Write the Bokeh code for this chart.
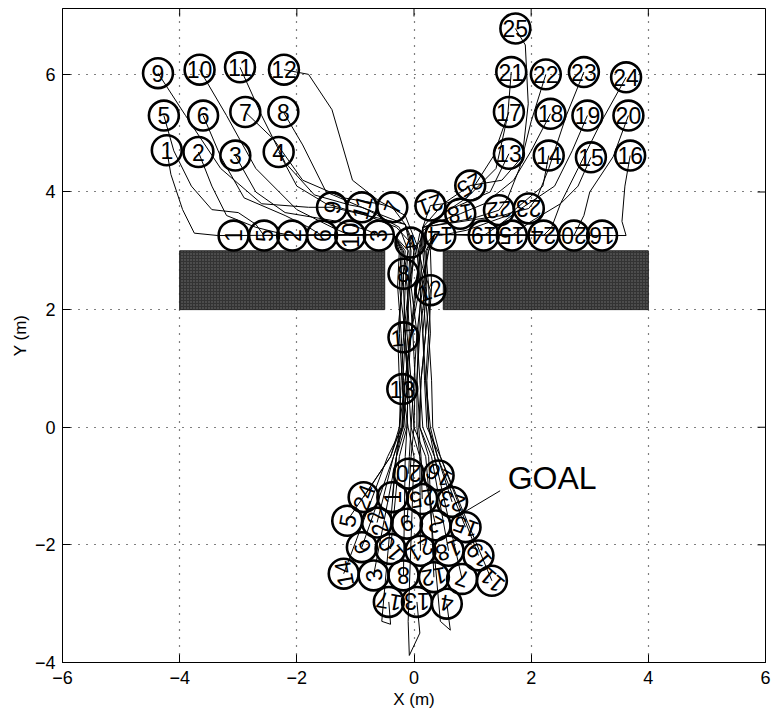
from bokeh.plotting import figure
from bokeh.models import Range1d, FixedTicker
from bokeh.core.properties import value
from bokeh.embed import file_html
from bokeh.resources import INLINE

FONT = "Liberation Sans"

# ---------------- data ----------------
robot_ids = list(range(1, 26))

start_x = [-4.22, -3.68, -3.05, -2.31, -4.27, -3.60, -2.88, -2.23, -4.37, -3.66, -2.97, -2.22,
           1.62, 2.30, 3.02, 3.69, 1.62, 2.33, 2.96, 3.66, 1.66, 2.25, 2.90, 3.62, 1.73]
start_y = [4.71, 4.68, 4.62, 4.68, 5.30, 5.30, 5.36, 5.36, 6.02, 6.08, 6.12, 6.08,
           4.65, 4.62, 4.59, 4.62, 5.36, 5.33, 5.30, 5.30, 6.04, 6.00, 6.04, 5.95, 6.78]

# snapshot positions (queue in front of the doorway)
snap_x = [-3.08, -2.08, -0.60, -0.06, -2.56, -1.57, -0.37, -0.18, -1.40, -1.09, -0.89, 0.28,
          -0.20, 0.45, 1.67, 3.21, -0.18, 0.79, 1.19, 2.73, 0.28, 1.45, 1.96, 2.21, 0.96]
snap_y = [3.26, 3.26, 3.26, 3.14, 3.26, 3.26, 3.74, 2.61, 3.74, 3.26, 3.74, 2.33,
          0.65, 3.26, 3.26, 3.26, 1.53, 3.63, 3.26, 3.26, 3.77, 3.69, 3.72, 3.26, 4.11]
snap_angle = [90, 90, 90, 10, 90, 90, 70, 0, 80, 90, 75, 20,
              0, 180, 180, 180, 5, 190, 180, 180, 200, 185, 180, 180, 210]

# final positions at the goal
goal_x = [-0.37, 0.37, -0.69, 0.56, -1.14, -0.89, 0.82, -0.18, -0.12, -0.40, 1.33, 0.34,
          0.05, -1.20, 0.88, 0.42, -0.43, 0.59, 1.10, -0.09, 0.11, -0.63, 0.65, -0.86, 0.14]
goal_y = [-1.19, -1.67, -2.52, -3.00, -1.59, -2.04, -2.58, -2.52, -1.64, -2.07, -2.61, -2.55,
          -2.97, -2.49, -1.70, -0.82, -2.97, -2.10, -2.18, -0.79, -2.10, -1.62, -1.27, -1.19, -1.22]
goal_angle = [90, 150, 100, 170, 80, 120, 160, 180, 200, 130, 140, 190,
              180, 100, 160, 150, 170, 200, 130, 180, 210, 110, 160, 70, 190]

# waypoints from start to snapshot (last point = snapshot position)
approach_x = [
    [-4.15, -3.95, -3.75, -3.35, -3.08],
    [-3.45, -3.2, -2.7, -2.3, -2.08],
    [-2.7, -2.2, -1.3, -0.8, -0.60],
    [-2.0, -1.5, -0.8, -0.3, -0.06],
    [-4.1, -3.8, -3.45, -3.0, -2.7, -2.56],
    [-3.3, -2.9, -2.2, -1.8, -1.57],
    [-2.4, -1.9, -1.2, -0.6, -0.37],
    [-1.9, -1.5, -0.8, -0.25, -0.1, -0.18],
    [-3.9, -3.3, -2.6, -1.8, -1.40],
    [-3.2, -2.7, -2.0, -1.4, -1.09],
    [-2.6, -2.2, -1.7, -1.1, -0.89],
    [-1.8, -1.4, -1.05, -0.6, -0.15, 0.05, 0.15, 0.28],
    [1.3, 0.6, 0.1, -0.05, -0.15, -0.20],
    [2.2, 1.6, 0.9, 0.45],
    [2.8, 2.5, 2.0, 1.67],
    [3.6, 3.55, 3.62, 3.4, 3.21],
    [1.35, 0.9, 0.3, 0.0, -0.1, -0.18],
    [2.0, 1.7, 1.2, 0.79],
    [2.7, 2.4, 1.8, 1.4, 1.19],
    [3.4, 3.0, 2.9, 2.73],
    [1.6, 1.4, 0.9, 0.5, 0.28],
    [2.0, 1.8, 1.6, 1.45],
    [2.6, 2.3, 2.1, 1.96],
    [3.2, 2.8, 2.5, 2.35, 2.21],
    [1.9, 1.95, 1.85, 1.5, 0.96],
]
approach_y = [
    [4.3, 3.7, 3.3, 3.26, 3.26],
    [4.1, 3.6, 3.4, 3.3, 3.26],
    [4.0, 3.65, 3.5, 3.35, 3.26],
    [4.1, 3.8, 3.6, 3.4, 3.14],
    [4.7, 4.1, 3.7, 3.65, 3.45, 3.26],
    [4.6, 3.9, 3.6, 3.4, 3.26],
    [4.9, 4.2, 3.9, 3.8, 3.74],
    [4.8, 4.0, 3.7, 3.4, 3.0, 2.61],
    [5.3, 4.4, 3.8, 3.74, 3.74],
    [5.3, 4.4, 3.7, 3.4, 3.26],
    [5.3, 4.5, 3.95, 3.78, 3.74],
    [6.0, 5.4, 4.2, 3.85, 3.6, 3.1, 2.7, 2.33],
    [4.0, 3.7, 3.3, 2.6, 1.5, 0.65],
    [4.1, 3.6, 3.35, 3.26],
    [4.1, 3.8, 3.5, 3.26],
    [4.1, 3.5, 3.26, 3.26, 3.26],
    [4.6, 3.9, 3.5, 3.0, 2.3, 1.53],
    [4.7, 4.2, 3.8, 3.63],
    [4.7, 4.1, 3.7, 3.4, 3.26],
    [4.6, 4.0, 3.6, 3.26],
    [5.3, 4.4, 3.9, 3.8, 3.77],
    [5.2, 4.4, 3.9, 3.69],
    [5.3, 4.4, 3.9, 3.72],
    [5.2, 4.4, 3.8, 3.4, 3.26],
    [6.5, 5.5, 4.6, 4.2, 4.11],
]

# waypoints after the snapshot, towards the doorway
post_x = [[-0.35], [-0.35], [-0.35], [], [-0.35], [-0.35], [-0.15], [], [-0.15], [-0.35], [-0.15], [],
          [], [0.35], [0.35], [0.35], [], [0.15], [0.35], [0.35], [0.15], [1.0, 0.15], [1.5, 0.15], [0.35], [0.5, 0.15]]
post_y = [[3.28], [3.28], [3.28], [], [3.28], [3.28], [3.45], [], [3.45], [3.28], [3.45], [],
          [], [3.28], [3.28], [3.28], [], [3.4], [3.28], [3.28], [3.4], [3.55, 3.4], [3.6, 3.4], [3.28], [3.8, 3.4]]

# passage through the doorway and down to the goal
corridor_y = [3.0, 2.4, 1.6, 0.8, 0.0, -0.5]
corridor_x = [
    [-0.20, -0.22, -0.25, -0.20, -0.15, -0.30],
    [-0.10, -0.15, -0.18, -0.10, -0.05, 0.10],
    [-0.25, -0.28, -0.22, -0.18, -0.20, -0.30],
    [-0.06, -0.10, -0.12, -0.05, 0.00, 0.20],
    [-0.15, -0.20, -0.28, -0.25, -0.22, -0.40],
    [-0.18, -0.12, -0.08, -0.12, -0.18, -0.35],
    [0.00, -0.05, 0.05, 0.10, 0.15, 0.35],
    [-0.10, -0.18, -0.15, -0.10, -0.12, -0.15],
    [-0.05, -0.08, -0.02, 0.02, 0.00, -0.05],
    [-0.22, -0.25, -0.15, -0.10, -0.12, -0.25],
    [0.05, 0.10, 0.15, 0.18, 0.22, 0.45],
    [0.15, 0.28, 0.20, 0.12, 0.10, 0.25],
    [0.00, -0.05, -0.15, -0.20, -0.10, 0.00],
    [0.10, 0.05, -0.05, -0.10, -0.20, -0.45],
    [0.20, 0.25, 0.28, 0.22, 0.25, 0.40],
    [0.28, 0.30, 0.25, 0.20, 0.25, 0.35],
    [0.00, -0.10, -0.18, -0.22, -0.25, -0.30],
    [0.15, 0.20, 0.10, 0.05, 0.10, 0.30],
    [0.22, 0.18, 0.25, 0.30, 0.32, 0.45],
    [0.25, 0.15, 0.05, 0.00, -0.05, -0.08],
    [0.08, 0.12, 0.08, 0.05, 0.05, 0.10],
    [0.12, 0.02, -0.05, -0.15, -0.20, -0.35],
    [0.18, 0.22, 0.15, 0.20, 0.28, 0.40],
    [0.25, 0.10, -0.05, -0.15, -0.25, -0.40],
    [0.10, 0.15, 0.20, 0.12, 0.08, 0.12],
]

# small overshoot loops below the goal
tail_x = {4: [0.45, 0.62], 13: [-0.1, -0.08, 0.1], 17: [-0.55, -0.4]}
tail_y = {4: [-3.3, -3.45], 13: [-3.3, -3.88, -3.5], 17: [-3.3, -3.35]}

obstacle_left = [-4.0, 0.5]
obstacle_right = [-0.5, 4.0]
obstacle_bottom = [2.0, 2.0]
obstacle_top = [3.0, 3.0]

goal_text_x = [1.60]
goal_text_y = [-0.86]
goal_line_x = [1.47, 0.88]
goal_line_y = [-1.08, -1.43]

x_ticks = [-6, -4, -2, 0, 2, 4, 6]
y_ticks = [-4, -2, 0, 2, 4, 6]
x_min, x_max = -6, 6
y_min, y_max = -4, 7.12

# ---------------- build trajectories ----------------
paths_x, paths_y = [], []
for i, rid in enumerate(robot_ids):
    xs = [start_x[i]] + approach_x[i] + post_x[i]
    ys = [start_y[i]] + approach_y[i] + post_y[i]
    last_y = ys[-1]
    for cx, cy in zip(corridor_x[i], corridor_y):
        if cy < last_y - 0.15:
            xs.append(cx)
            ys.append(cy)
    xs += tail_x.get(rid, [])
    ys += tail_y.get(rid, [])
    xs.append(goal_x[i])
    ys.append(goal_y[i])
    paths_x.append(xs)
    paths_y.append(ys)

labels = [str(r) for r in robot_ids]

# ---------------- figure ----------------
W, H = 773, 714
ML, MR, MT, MB = 62, 8, 8, 52
p = figure(width=W, height=H, x_range=Range1d(x_min, x_max), y_range=Range1d(y_min, y_max),
           output_backend="svg", toolbar_location=None,
           min_border_left=ML, min_border_right=MR, min_border_top=MT, min_border_bottom=MB)
p.background_fill_color = "white"
p.border_fill_color = "white"
p.outline_line_color = "black"
p.outline_line_width = 1

for ax, ticks in ((p.xaxis[0], x_ticks), (p.yaxis[0], y_ticks)):
    ax.ticker = FixedTicker(ticks=ticks)
    ax.major_tick_in = 8
    ax.major_tick_out = 0
    ax.minor_tick_in = 0
    ax.minor_tick_out = 0
    ax.axis_line_color = "black"
    ax.major_tick_line_color = "black"
    ax.major_label_text_font = FONT
    ax.major_label_text_font_size = "18px"
    ax.major_label_text_color = "black"
    ax.axis_label_text_font = FONT
    ax.axis_label_text_font_size = "17px"
    ax.axis_label_text_font_style = "normal"
    ax.axis_label_text_color = "black"
p.xaxis.axis_label = "X (m)"
p.yaxis.axis_label = "Y (m)"
p.xaxis.major_label_standoff = 8
p.xaxis.axis_label_standoff = 3
p.yaxis.major_label_standoff = 7
p.yaxis.axis_label_standoff = 2

# tick marks on the top and right sides of the box
frame_w = W - ML - MR
frame_h = H - MT - MB
tick_len_x = 8 * (x_max - x_min) / frame_w
tick_len_y = 8 * (y_max - y_min) / frame_h
p.segment(x0=x_ticks, y0=[y_max] * len(x_ticks), x1=x_ticks, y1=[y_max - tick_len_y] * len(x_ticks),
          line_color="black", line_width=1)
p.segment(x0=[x_max] * len(y_ticks), y0=y_ticks, x1=[x_max - tick_len_x] * len(y_ticks), y1=y_ticks,
          line_color="black", line_width=1)

p.xgrid.ticker = FixedTicker(ticks=x_ticks)
p.ygrid.ticker = FixedTicker(ticks=y_ticks)
p.grid.grid_line_color = "black"
p.grid.grid_line_dash = "1 7"
p.grid.grid_line_width = 1.2

# obstacles
p.quad(left=obstacle_left, right=obstacle_right, bottom=obstacle_bottom, top=obstacle_top,
       fill_color="#333333", line_color="#222222", line_width=1,
       hatch_pattern="dot", hatch_color="#a0a0a0", hatch_scale=3, hatch_weight=1, hatch_alpha=0.55)

# trajectories
p.multi_line(paths_x, paths_y, line_color="black", line_width=1.0)

# robots
circle_style = dict(radius=0.255, fill_color=None, line_color="black", line_width=2.6)
text_style = dict(text_align="center", text_baseline="middle", text_color="black",
                  text_font=value(FONT), text_font_size=value("23px"))

p.circle(start_x, start_y, **circle_style)
p.text(start_x, start_y, text=labels, **text_style)

p.circle(snap_x, snap_y, **circle_style)
p.text(snap_x, snap_y, text=labels, angle=snap_angle, angle_units="deg", **text_style)

p.circle(goal_x, goal_y, **circle_style)
p.text(goal_x, goal_y, text=labels, angle=goal_angle, angle_units="deg", **text_style)

# GOAL annotation
p.line(goal_line_x, goal_line_y, line_color="black", line_width=1)
p.text(goal_text_x, goal_text_y, text=["GOAL"], text_align="left", text_baseline="middle",
       text_color="black", text_font=value(FONT), text_font_size=value("32px"))

open("out.html", "w").write(file_html(p, INLINE))
